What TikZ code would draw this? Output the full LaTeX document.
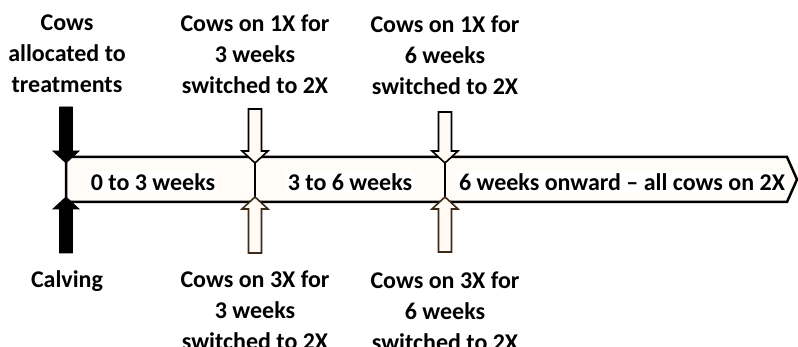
\documentclass[tikz,border=0pt]{standalone}
\usepackage{fontspec}
\setmainfont{Carlito}
\usetikzlibrary{calc}
\definecolor{barfill}{HTML}{FFFBF7}
\definecolor{arrowfill}{HTML}{FFFAF4}
\definecolor{arrowbrown}{HTML}{3D2B1A}

% vertical block arrow: #1 style, #2 shaft end, #3 tip
\newcommand\blockarrow[3]{%
  \path[#1] let \p1=(#2), \p2=(#3), \n1={ifthenelse(\y1>\y2,1,-1)} in
    (\x1-6.5pt,\y1) -- (\x1-6.5pt,\y2+\n1*12pt) -- (\x1-13pt,\y2+\n1*12pt)
    -- (\x2,\y2) -- (\x1+13pt,\y2+\n1*12pt) -- (\x1+6.5pt,\y2+\n1*12pt)
    -- (\x1+6.5pt,\y1) -- cycle;}

\begin{document}
\begin{tikzpicture}[x=1pt,y=1pt,
  lbl/.style={font=\bfseries\fontsize{24}{31}\selectfont, align=center, inner sep=0pt},
  barlbl/.style={font=\bfseries\fontsize{24}{29}\selectfont, fill=white, inner sep=2pt},
  barframe/.style={draw=black, line width=2.5pt, fill=barfill, line join=miter},
  divider/.style={draw=black, line width=2pt},
  solidarrow/.style={fill=black, draw=black, line width=0.8pt, line join=miter},
  hollowtop/.style={fill=arrowfill, draw=black, line width=1.6pt, line join=miter},
  hollowbot/.style={fill=arrowfill, draw=arrowbrown, line width=1.6pt, line join=miter}]
\useasboundingbox (0,0) rectangle (798,347);

% time bar with its boundaries
\coordinate (t0) at (66,190);  \coordinate (b0) at (66,145);
\coordinate (t1) at (255,190); \coordinate (b1) at (255,145);
\coordinate (t2) at (445,190); \coordinate (b2) at (445,145);
\coordinate (tR) at (787,190); \coordinate (bR) at (787,145);
\coordinate (tip) at (797,167.5);
\draw[barframe] (t0) -- (tR) -- (tip) -- (bR) -- (b0) -- cycle;
\draw[divider] (t1) -- (b1);
\draw[divider] (t2) -- (b2);

% period labels
\node[barlbl] (p1) at (153,165) {0 to 3 weeks};
\node[barlbl] (p2) at (350,165) {3 to 6 weeks};
\node[barlbl] (p3) at (622,165) {6 weeks onward \textendash{} all cows on 2X};

% event labels above and below the bar
\node[lbl, anchor=north] (alloc) at (67,332) {Cows\\allocated to\\treatments};
\node[lbl, anchor=north] (s13) at (255,332) {Cows on 1X for\\3 weeks\\switched to 2X};
\node[lbl, anchor=north] (s16) at (445,331) {Cows on 1X for\\6 weeks\\switched to 2X};
\node[lbl, anchor=north] (calv) at (67,77) {Calving};
\node[lbl, anchor=north] (s33) at (255,76) {Cows on 3X for\\3 weeks\\switched to 2X};
\node[lbl, anchor=north] (s36) at (445,75) {Cows on 3X for\\6 weeks\\switched to 2X};

% arrow ends
\coordinate (a0) at (66,240);  \coordinate (a0tip) at ($(t0)+(0,-6)$);
\coordinate (a1) at (255,238); \coordinate (a1tip) at ($(t1)+(0,-6)$);
\coordinate (a2) at (445,235); \coordinate (a2tip) at ($(t2)+(0,-6)$);
\coordinate (c0) at (66,94);   \coordinate (c0tip) at ($(b0)+(0,5)$);
\coordinate (c1) at (255,94);  \coordinate (c1tip) at ($(b1)+(0,5)$);
\coordinate (c2) at (445,95);  \coordinate (c2tip) at ($(b2)+(0,5)$);

\blockarrow{solidarrow}{a0}{a0tip}
\blockarrow{hollowtop}{a1}{a1tip}
\blockarrow{hollowtop}{a2}{a2tip}
\blockarrow{solidarrow}{c0}{c0tip}
\blockarrow{hollowbot}{c1}{c1tip}
\blockarrow{hollowbot}{c2}{c2tip}
\end{tikzpicture}
\end{document}
